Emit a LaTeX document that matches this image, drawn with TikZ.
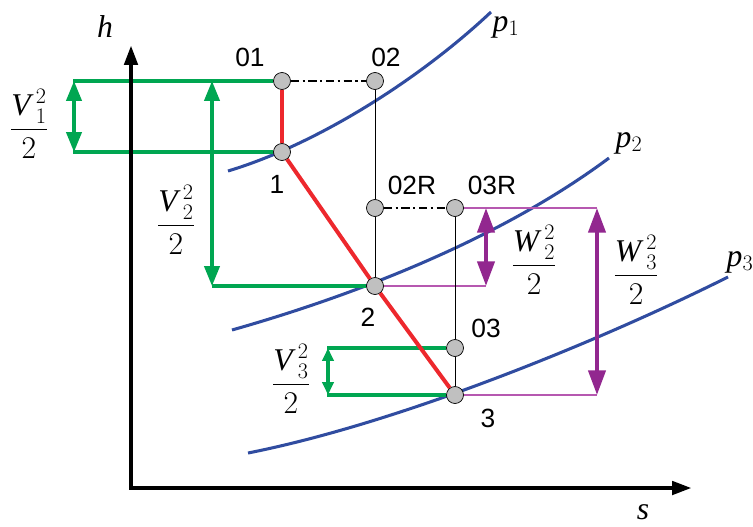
\RequirePackage{fix-cm}
\documentclass[tikz,border=0pt]{standalone}
\usepackage{amsmath}
\usepackage{fontspec}
\setmainfont{Liberation Serif}
\setsansfont{Liberation Sans}
\usepackage{tikz}
\usetikzlibrary{arrows.meta, calc}
\definecolor{isoblue}{RGB}{48, 76, 160}
\definecolor{flowgreen}{RGB}{0, 166, 81}
\definecolor{procred}{RGB}{237, 40, 45}
\definecolor{relpurple}{RGB}{146, 39, 143}
\definecolor{rellight}{RGB}{182, 88, 176}
\definecolor{ptgray}{RGB}{192, 192, 192}
\tikzstyle{statept} = [circle, draw=black, fill=ptgray, minimum size=0.51cm, inner sep=0pt, line width=0.6pt]
\tikzstyle{ptlabel} = [font=\sffamily\fontsize{22.5}{26}\selectfont, inner sep=0pt]
\tikzstyle{mathlabel} = [font=\fontsize{27}{32}\selectfont, inner sep=0pt]
\tikzstyle{isobar} = [isoblue, line width=2.6pt]
\tikzstyle{procline} = [procred, line width=3.4pt]
\tikzstyle{greenline} = [flowgreen, line width=2.6pt]
\tikzstyle{greenarrow} = [flowgreen, line width=2.8pt, {Triangle[length=17pt, width=13pt]}-{Triangle[length=17pt, width=13pt]}]
\tikzstyle{smallarrow} = [flowgreen, line width=2.8pt, {Triangle[length=11pt, width=9.5pt]}-{Triangle[length=11pt, width=9.5pt]}]
\tikzstyle{purpleline} = [rellight, line width=2.4pt]
\tikzstyle{purplearrow} = [relpurple, line width=3.5pt, {Triangle[length=21pt, width=14.5pt]}-{Triangle[length=21pt, width=14.5pt]}]
\tikzstyle{thinline} = [black, line width=0.8pt]
\tikzstyle{dashdotline} = [black, line width=1.5pt, dash pattern=on 7pt off 3pt on 2pt off 3pt]
\tikzstyle{axisline} = [black, line width=4pt, {Triangle[length=17pt, width=11pt]}-{Triangle[length=17pt, width=11pt]}]
\newcommand{\speedsq}[2]{\dfrac{{\mathit{#1}\mkern3mu}^2_{#2}}{2}}

\begin{document}
\begin{tikzpicture}[x=0.03cm, y=-0.03cm]
    \useasboundingbox (0,0) rectangle (753,526);

    % Isobars
    \draw[isobar] (228,171) .. controls (318,144) and (421,78) .. (491,12);
    \draw[isobar] (232,330) .. controls (352,296) and (499,240) .. (609,158);
    \draw[isobar] (248,453) .. controls (400,423) and (600,341) .. (728,277);
    \node[mathlabel] (lp1) at (506,27) {$\mathit{p}_1$};
    \node[mathlabel] (lp2) at (629,143) {$\mathit{p}_2$};
    \node[mathlabel] (lp3) at (740,262) {$\mathit{p}_3$};

    % State points
    \node[statept] (p01) at (282,81) {};
    \node[statept] (p02) at (375,81) {};
    \node[statept] (p1) at (282,152) {};
    \node[statept] (p02R) at (375,208) {};
    \node[statept] (p03R) at (455,208) {};
    \node[statept] (p2) at (375,286) {};
    \node[statept] (p03) at (455,348) {};
    \node[statept] (p3) at (455,395) {};

    \node[ptlabel] (l01) at (250,57) {01};
    \node[ptlabel] (l02) at (386,57) {02};
    \node[ptlabel] (l1) at (277,184) {1};
    \node[ptlabel] (l02R) at (412,185) {02R};
    \node[ptlabel] (l03R) at (492,185) {03R};
    \node[ptlabel] (l2) at (368,317) {2};
    \node[ptlabel] (l03) at (486,328) {03};
    \node[ptlabel] (l3) at (488,418) {3};

    % Absolute velocities
    \coordinate (g01) at (73,81);
    \coordinate (g1) at (73,152);
    \coordinate (a1top) at (74,81);
    \coordinate (a1bot) at (74,152);
    \coordinate (a2top) at (212,81);
    \coordinate (a2bot) at (212,286);
    \coordinate (g03) at (327,348);
    \coordinate (g3) at (327,395);
    \coordinate (a3top) at (328,348);
    \coordinate (a3bot) at (328,395);
    \draw[greenline] (g01) -- (p01);
    \draw[greenline] (g1) -- (p1);
    \draw[greenline] (a2bot) -- (p2);
    \draw[greenline] (g03) -- (p03);
    \draw[greenline] (g3) -- (p3);
    \draw[greenarrow] (a1top) -- (a1bot);
    \draw[greenarrow] (a2top) -- (a2bot);
    \draw[smallarrow] (a3top) -- (a3bot);
    \node[mathlabel] (v1) at (29,124) {$\speedsq{V}{1}$};
    \node[mathlabel] (v2) at (176,220) {$\speedsq{V}{2}$};
    \node[mathlabel] (v3) at (291,379) {$\speedsq{V}{3}$};

    % Relative velocities
    \coordinate (w2top) at (486,208);
    \coordinate (w2bot) at (486,286);
    \coordinate (w3top) at (597,208);
    \coordinate (w3bot) at (597,395);
    \draw[purpleline] (p03R) -- (w3top);
    \draw[purpleline] (p2) -- (w2bot);
    \draw[purpleline] (p3) -- (w3bot);
    \draw[purplearrow] (w2top) -- (w2bot);
    \draw[purplearrow] (w3top) -- (w3bot);
    \node[mathlabel] (w2) at (534,260) {$\speedsq{W}{2}$};
    \node[mathlabel] (w3) at (636,270) {$\speedsq{W}{3}$};

    % Stagnation states
    \draw[thinline] (p02) -- (p02R) -- (p2);
    \draw[thinline] (p03R) -- (p03) -- (p3);
    \draw[dashdotline] (p01) -- (p02);
    \draw[dashdotline] (p02R) -- (p03R);

    % Expansion line
    \draw[procline] (p01) -- (p1) -- (p2) -- (p3);

    % Axes
    \coordinate (htip) at (131,45);
    \coordinate (stip) at (692,488);
    \draw[axisline] (htip) |- (stip);
    \node[mathlabel] (hlbl) at (105,27) {$\mathit{h}$};
    \node[mathlabel] (slbl) at (643,512) {$\mathit{s}$};
\end{tikzpicture}
\end{document}
